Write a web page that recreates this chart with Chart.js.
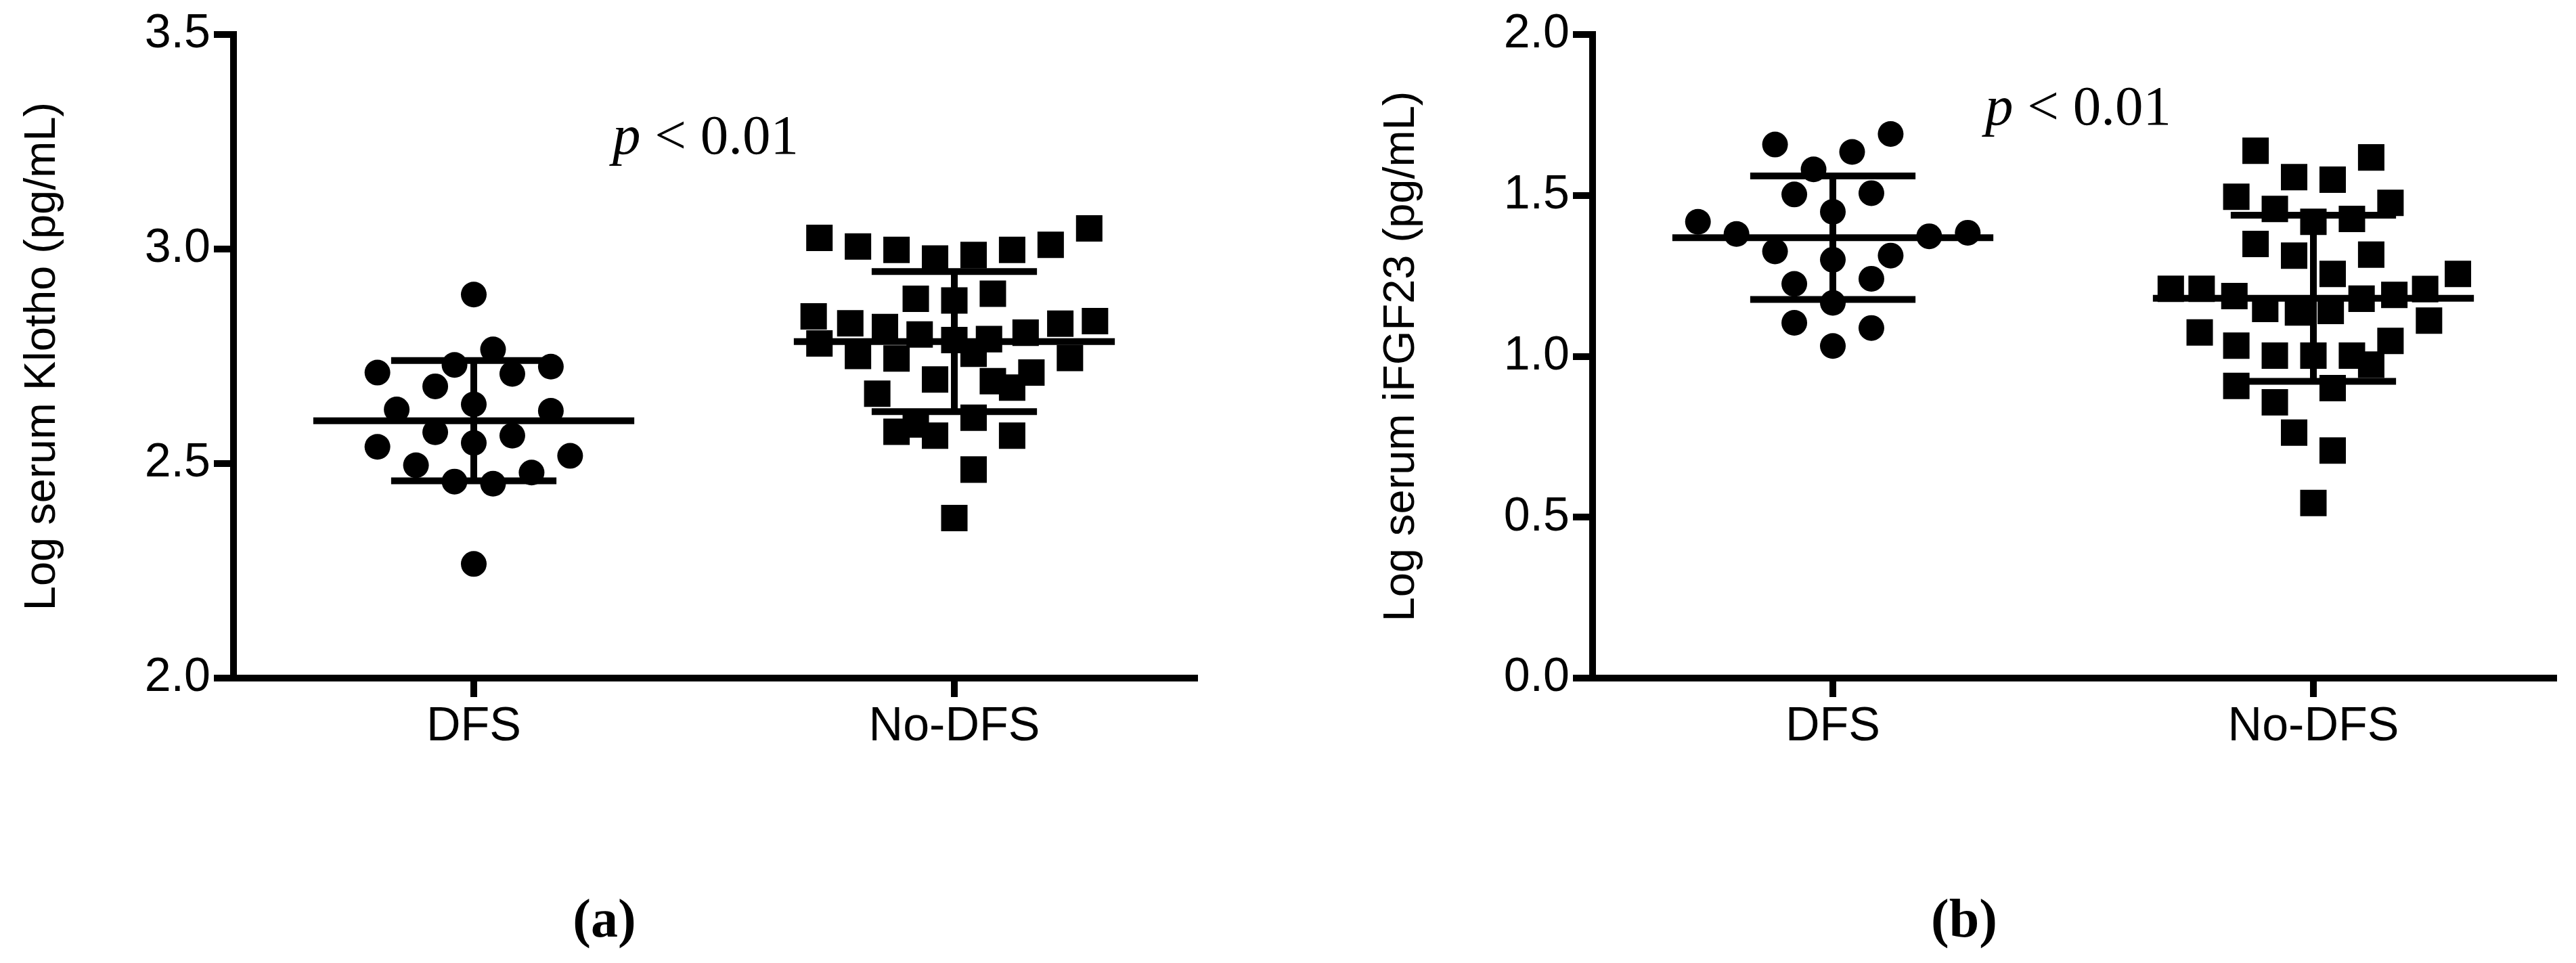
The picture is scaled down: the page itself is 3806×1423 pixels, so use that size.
<!DOCTYPE html>
<html>
<head>
<meta charset="utf-8">
<title>Klotho and iFGF23 by DFS status</title>
<script src="https://cdn.jsdelivr.net/npm/chart.js@4.4.1/dist/chart.umd.min.js"></script>
<style>
    html, body { margin: 0; padding: 0; background: #fff; }
    #page { position: relative; width: 3806px; height: 1423px; overflow: hidden; background: #fff; }
    .panel { position: absolute; top: 0; width: 1798px; height: 1423px; }
    .panel canvas { position: absolute; left: 0; top: 0; }
    .pval { position: absolute; font-family: 'Liberation Serif', 'Times New Roman', serif; font-size: 83px; line-height: 83px; white-space: nowrap; color: #000; }
    .pval i { font-style: italic; }
    .tag { position: absolute; width: 400px; text-align: center; font-family: 'Liberation Serif', 'Times New Roman', serif; font-weight: bold; font-size: 80px; line-height: 80px; color: #000; }
</style>
</head>
<body>
<div id="page">
    <div class="panel" style="left: 0;">
        <canvas id="klothoChart" width="1798" height="1423"></canvas>
        <div class="pval" style="left: 905px; top: 158px;"><i>p</i> &lt; 0.01</div>
        <div class="tag" style="left: 693px; top: 1317px;">(a)</div>
    </div>
    <div class="panel" style="left: 2008px;">
        <canvas id="fgfChart" width="1798" height="1423"></canvas>
        <div class="pval" style="left: 925px; top: 115px;"><i>p</i> &lt; 0.01</div>
        <div class="tag" style="left: 694px; top: 1317px;">(b)</div>
    </div>
</div>
<script>
const categories = ['DFS', 'No-DFS'];

const klothoTicks = [2.0, 2.5, 3.0, 3.5];
const fgfTicks = [0.0, 0.5, 1.0, 1.5, 2.0];

// log serum Klotho
const klothoDfs = [2.894, 2.766, 2.730, 2.726, 2.712, 2.709, 2.680, 2.638, 2.626, 2.623,
    2.573, 2.565, 2.548, 2.539, 2.518, 2.496, 2.479, 2.458, 2.453, 2.266];
const klothoNoDfs = [3.026, 3.006, 2.998, 2.978, 2.986, 2.998, 3.010, 3.048,
    2.884, 2.880, 2.896,
    2.843, 2.827, 2.818, 2.801, 2.788, 2.790, 2.805, 2.826, 2.832,
    2.780, 2.751, 2.745, 2.756, 2.746,
    2.696, 2.692, 2.677, 2.712, 2.663,
    2.574, 2.565, 2.591, 2.607, 2.565,
    2.486, 2.373];

// log serum iFGF23
const fgfDfs = [1.658, 1.691, 1.635, 1.581, 1.503, 1.507, 1.449, 1.418, 1.380, 1.373,
    1.384, 1.326, 1.313, 1.300, 1.225, 1.241, 1.166, 1.104, 1.088, 1.032];
const fgfNoDfs = [1.639, 1.557, 1.549, 1.618,
    1.496, 1.458, 1.418, 1.427, 1.477,
    1.349, 1.313, 1.316, 1.256, 1.256,
    1.210, 1.210, 1.187, 1.209, 1.191, 1.179,
    1.147, 1.136, 1.141, 1.111,
    1.074, 1.033, 1.002, 1.002, 1.002, 0.974, 1.048,
    0.908, 0.901, 0.857, 0.763, 0.707, 0.544];

// horizontal scatter slot of every point (dot plot spread), as in the figure
const klothoDfsSlot = [0, 1, -1, 4, -5, 2, -2, 0, -4, 4, -2, 2, 0, -5, 5, -3, 3, -1, 1, 0];
const klothoNoDfsSlot = [-7, -5, -3, -1, 1, 3, 5, 7,
    -2, 0, 2,
    -7.3, -5.4, -3.6, -1.8, 0, 1.8, 3.7, 5.5, 7.3,
    -7, -5, -3, 1, 6,
    -1, 2, 3, 4, -4,
    -3, -1, -2, 1, 3,
    1, 0];
const fgfDfsSlot = [-3, 3, 1, -1, -2, 2, 0, -7, -5, 5, 7, -3, 3, 0, -2, 2, 0, -2, 2, 0];
const fgfNoDfsSlot = [-3, -1, 1, 3,
    -4, -2, 0, 2, 4,
    -3, -1, 3, 1, 7.5,
    -7.4, -5.8, -4.1, 5.8, 4.2, 2.5,
    -2.5, -0.8, 0.9, 6,
    -5.9, -4, -2, 0, 2, 3, 4,
    -4, 1, -2, -1, 1, 0];

const SLOT = 0.0401;      // one slot in x units
const MEAN_HALF = 0.334;  // half length of the mean bar
const SD_HALF = 0.172;    // half length of the SD caps

Chart.defaults.font.family = "'Liberation Sans', Arial, sans-serif";
Chart.defaults.color = '#000';

function mean(arr) {
    return arr.reduce((a, b) => a + b, 0) / arr.length;
}

function sd(arr) {
    const m = mean(arr);
    return Math.sqrt(arr.reduce((a, b) => a + (b - m) * (b - m), 0) / (arr.length - 1));
}

function segment(x1, y1, x2, y2) {
    return {
        data: [{x: x1, y: y1}, {x: x2, y: y2}],
        showLine: true,
        borderColor: '#000',
        borderWidth: 10,
        pointRadius: 0,
        fill: false
    };
}

function summaryLines(group, values) {
    const m = mean(values);
    const s = sd(values);
    return [
        segment(group - MEAN_HALF, m, group + MEAN_HALF, m),
        segment(group - SD_HALF, m + s, group + SD_HALF, m + s),
        segment(group - SD_HALF, m - s, group + SD_HALF, m - s),
        segment(group, m - s, group, m + s)
    ];
}

function points(group, values, slots, style, radius) {
    return {
        data: values.map((v, i) => ({x: group + slots[i] * SLOT, y: v})),
        pointStyle: style,
        pointRadius: radius,
        backgroundColor: '#000',
        borderWidth: 0,
        showLine: false
    };
}

function makeChart(id, yTitle, ticks, dfs, dfsSlot, noDfs, noDfsSlot) {
    const ctx = document.getElementById(id).getContext('2d');
    return new Chart(ctx, {
        type: 'scatter',
        data: {
            datasets: [
                points(1, dfs, dfsSlot, 'circle', 19),
                points(2, noDfs, noDfsSlot, 'rect', 27.6),
                ...summaryLines(1, dfs),
                ...summaryLines(2, noDfs)
            ]
        },
        options: {
            responsive: false,
            animation: false,
            devicePixelRatio: 1,
            layout: {padding: {left: 0, top: 51, right: 33, bottom: 0}},
            plugins: {
                legend: {display: false},
                tooltip: {enabled: false}
            },
            scales: {
                x: {
                    type: 'linear',
                    min: 0.5,
                    max: 2.5,
                    afterBuildTicks: function (scale) {
                        scale.ticks = categories.map((c, i) => ({value: i + 1}));
                    },
                    ticks: {
                        callback: function (value, index) {
                            return categories[index];
                        },
                        font: {size: 70},
                        color: '#000',
                        padding: 3,
                        maxRotation: 0,
                        autoSkip: false
                    },
                    grid: {drawOnChartArea: false, drawTicks: true, tickLength: 28, lineWidth: 10, color: '#000'},
                    border: {display: true, width: 10, color: '#000'},
                    afterFit: function (scale) {
                        scale.height = 421;
                        scale.paddingLeft = 0;
                        scale.paddingRight = 0;
                    }
                },
                y: {
                    min: ticks[0],
                    max: ticks[ticks.length - 1],
                    afterBuildTicks: function (scale) {
                        scale.ticks = ticks.map(v => ({value: v}));
                    },
                    ticks: {
                        callback: function (value) {
                            return value.toFixed(1);
                        },
                        font: {size: 70},
                        color: '#000',
                        padding: 5
                    },
                    grid: {drawOnChartArea: false, drawTicks: true, tickLength: 29, lineWidth: 10, color: '#000'},
                    border: {display: true, width: 10, color: '#000'},
                    title: {
                        display: true,
                        text: yTitle,
                        font: {size: 65},
                        color: '#000',
                        padding: {top: 24, bottom: 0}
                    },
                    afterFit: function (scale) {
                        scale.width = 345;
                        scale.paddingTop = 0;
                        scale.paddingBottom = 0;
                    }
                }
            }
        }
    });
}

makeChart('klothoChart', 'Log serum Klotho (pg/mL)', klothoTicks,
    klothoDfs, klothoDfsSlot, klothoNoDfs, klothoNoDfsSlot);
makeChart('fgfChart', 'Log serum iFGF23 (pg/mL)', fgfTicks,
    fgfDfs, fgfDfsSlot, fgfNoDfs, fgfNoDfsSlot);
</script>
</body>
</html>
